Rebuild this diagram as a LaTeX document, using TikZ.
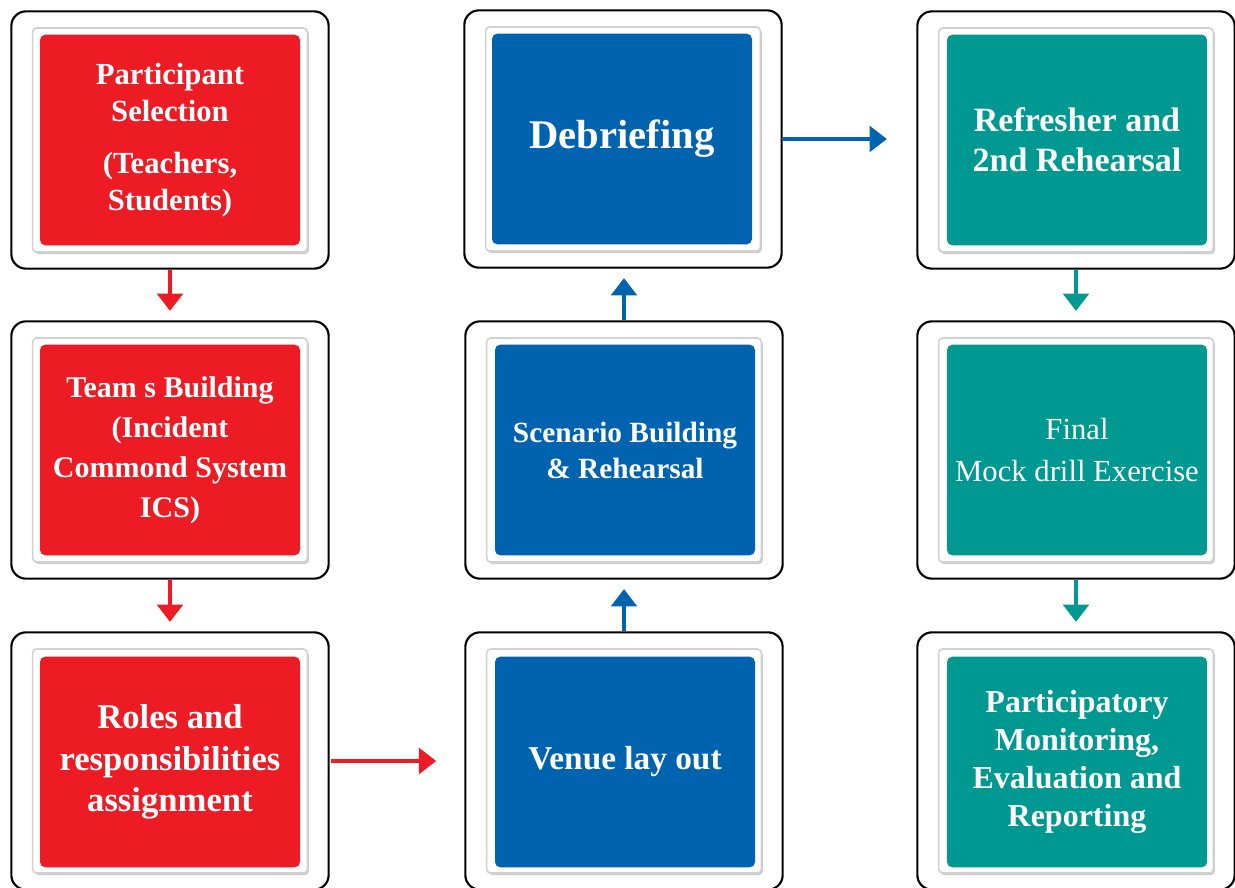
\documentclass[tikz,border=0pt]{standalone}
\usepackage{fontspec}
\setmainfont{Liberation Serif}
\usetikzlibrary{arrows.meta,shadows}

\definecolor{boxred}{RGB}{237,28,36}
\definecolor{boxblue}{RGB}{0,99,175}
\definecolor{boxteal}{RGB}{0,153,146}

\begin{document}
\begin{tikzpicture}[x=0.75pt,y=-0.75pt,
  frame/.style={draw=black,line width=1.6pt,fill=white,rounded corners=11pt,
    minimum width=238pt,minimum height=193pt,inner sep=0pt},
  plate/.style={draw=black!18,line width=1.2pt,fill=white,rounded corners=3pt,
    minimum width=206pt,minimum height=168pt,inner sep=0pt,
    drop shadow={shadow xshift=1.2pt,shadow yshift=-1.5pt,opacity=0.4}},
  stage/.style={rounded corners=4pt,minimum width=195pt,minimum height=158pt,
    inner sep=0pt,text=white,align=center},
  redbox/.style={stage,fill=boxred},
  bluebox/.style={stage,fill=boxblue},
  tealbox/.style={stage,fill=boxteal},
  size/.style 2 args={font=\bfseries\fontsize{#1}{#2}\selectfont},
  flow/.style={line width=3.5pt,-{Triangle[width=19pt,length=13pt]}}]
\useasboundingbox (0,0) rectangle (1235,888);

% frames
\foreach \n/\x/\y in {a/170/140,b/170/450,c/170/761,
                      d/623/139,e/624/450,f/624/761,
                      g/1076/140,h/1076/450,i/1076/761}{
  \node[frame] (f\n) at (\x,\y) {};
  \node[plate] at (\x,\y) {};
}

% first column
\node[redbox,size={23}{28}] (a) at (170,140)
  {Participant\\Selection\\[11pt](Teachers,\\Students)};
\node[redbox,size={22.5}{30}] (b) at (170,450)
  {Team s Building\\(Incident\\Commond System\\ICS)};
\node[redbox,size={26}{31}] (c) at (170,762)
  {Roles and\\responsibilities\\assignment};

% second column
\node[bluebox,size={30.5}{36}] (d) at (622,139) {Debriefing};
\node[bluebox,size={22}{27}] (e) at (625,450) {Scenario Building\\\& Rehearsal};
\node[bluebox,size={25}{30}] (f) at (625,762) {Venue lay out};

% third column
\node[tealbox,size={25.5}{30}] (g) at (1077,140) {Refresher and\\2nd Rehearsal};
\node[tealbox,font=\fontsize{23}{31.5}\selectfont] (h) at (1077,450)
  {Final\\Mock drill Exercise};
\node[tealbox,size={24}{28.5}] (i) at (1077,762)
  {Participatory\\Monitoring,\\Evaluation and\\Reporting};

% connectors
\draw[flow,boxred,shorten >=7pt] (fa.south) -- (fb.north);
\draw[flow,boxred,shorten >=7pt] (fb.south) -- (fc.north);
\draw[flow,boxred,shorten <=1pt,shorten >=21pt] (fc.east) -- (ff.west);
\draw[flow,boxblue,shorten >=7pt] (ff.north) -- (fe.north |- fe.south);
\draw[flow,boxblue,shorten >=7pt] (fe.north) -- (fe.north |- fd.south);
\draw[flow,boxblue,shorten >=22pt] (fd.east) -- (fg.west |- fd.east);
\draw[flow,boxteal,shorten >=7pt] (fg.south) -- (fh.north);
\draw[flow,boxteal,shorten >=7pt] (fh.south) -- (fi.north);
\end{tikzpicture}
\end{document}
